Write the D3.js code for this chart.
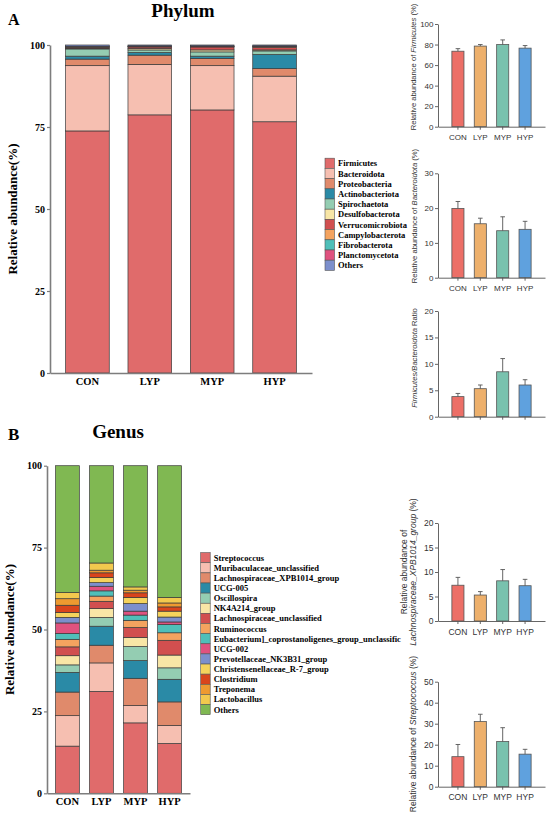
<!DOCTYPE html>
<html>
<head>
<meta charset="utf-8">
<script src="https://cdn.jsdelivr.net/npm/d3@7"></script>
<style>
  body { margin: 0; background: #fff; }
  svg { display: block; }
</style>
</head>
<body>
<svg id="fig" width="550" height="818"></svg>
<script>
const SERIF = '"Liberation Serif", "Times New Roman", serif';
const SANS = '"Liberation Sans", Arial, sans-serif';

const groups = ['CON', 'LYP', 'MYP', 'HYP'];

// ---- phylum composition (%) ----
const phyla = ['Firmicutes', 'Bacteroidota', 'Proteobacteria', 'Actinobacteriota', 'Spirochaetota',
  'Desulfobacterota', 'Verrucomicrobiota', 'Campylobacterota', 'Fibrobacterota', 'Planctomycetota', 'Others'];
const phylumColors = ['#e06b6b', '#f6bfb1', '#e08a6b', '#2a8aa6', '#94cdb2',
  '#f8e6a6', '#d14f4f', '#f4a35f', '#4fbfb9', '#e0527f', '#7c8fcc'];
const phylumCON = [73.8, 19.9, 2.0, 0.9, 2.2, 0.2, 0.3, 0.1, 0.1, 0.1, 0.4];
const phylumLYP = [78.7, 15.4, 2.8, 0.8, 0.8, 0.4, 0.5, 0.1, 0.1, 0.1, 0.3];
const phylumMYP = [80.2, 13.5, 2.2, 0.7, 1.3, 0.6, 0.9, 0.1, 0.1, 0.1, 0.3];
const phylumHYP = [76.6, 13.9, 2.3, 4.3, 1.1, 0.3, 0.8, 0.2, 0.1, 0.1, 0.3];

// ---- genus composition (%) ----
const genera = ['Streptococcus', 'Muribaculaceae_unclassified', 'Lachnospiraceae_XPB1014_group', 'UCG-005',
  'Oscillospira', 'NK4A214_group', 'Lachnospiraceae_unclassified', 'Ruminococcus',
  'Eubacterium]_coprostanoligenes_group_unclassific', 'UCG-002', 'Prevotellaceae_NK3B31_group',
  'Christensenellaceae_R-7_group', 'Clostridium', 'Treponema', 'Lactobacillus', 'Others'];
const genusColors = ['#e06b6b', '#f6bfb1', '#e08a6b', '#2a8aa6', '#94cdb2', '#f8e6a6', '#d14f4f', '#f4a35f',
  '#4fbfb9', '#e0527f', '#7c8fcc', '#f5d35c', '#d9451c', '#ee9a30', '#f2c94e', '#80b852'];
const genusCON = [14.4, 9.3, 7.2, 6.0, 2.3, 2.8, 2.7, 2.3, 1.8, 3.2, 1.7, 1.5, 2.2, 2.0, 1.9, 38.7];
const genusLYP = [31.1, 8.7, 5.4, 5.8, 2.7, 2.7, 2.2, 1.6, 1.6, 1.4, 1.1, 1.6, 1.4, 0.8, 2.2, 29.7];
const genusMYP = [21.5, 5.3, 8.3, 5.4, 4.3, 2.8, 3.0, 2.2, 1.6, 1.2, 2.3, 1.9, 1.4, 0.8, 1.0, 37.0];
const genusHYP = [15.2, 5.5, 7.2, 6.9, 3.5, 3.9, 4.5, 2.3, 2.5, 0.8, 1.5, 1.8, 1.3, 1.2, 1.7, 40.2];

// ---- single-taxon bar charts: mean and SD ----
const barColors = ['#ec6f67', '#edb06c', '#79c2ae', '#5fa1de'];
const firmicutesMean = [73.5, 78.5, 80.0, 76.5];
const firmicutesSD = [2.5, 1.5, 4.5, 2.5];
const bacteroidotaMean = [19.9, 15.5, 13.5, 13.9];
const bacteroidotaSD = [2.0, 1.6, 4.0, 2.3];
const ratioMean = [3.8, 5.3, 8.5, 6.0];
const ratioSD = [0.6, 0.7, 2.5, 1.0];
const lachnoMean = [7.3, 5.3, 8.2, 7.2];
const lachnoSD = [1.6, 0.7, 2.3, 1.3];
const streptoMean = [14.3, 31.0, 21.5, 15.5];
const streptoSD = [5.8, 3.5, 6.6, 2.3];

const svg = d3.select('#fig');

function stackedPanel(o) {
  const x = d3.scaleBand().domain(groups).range([o.left, o.right]).paddingInner(0.3).paddingOuter(0.25);
  const y = d3.scaleLinear().domain([0, 100]).range([o.bottom, o.top]);
  const rows = groups.map((grp, i) => {
    const r = { group: grp };
    o.taxa.forEach((t, j) => { r[t] = o.values[i][j]; });
    return r;
  });
  const series = d3.stack().keys(o.taxa)(rows);
  const g = svg.append('g');

  g.selectAll('g.layer').data(series).join('g')
    .attr('class', 'layer')
    .attr('fill', (d, i) => o.colors[i])
    .selectAll('rect').data(d => d).join('rect')
      .attr('x', d => x(d.data.group))
      .attr('y', d => y(d[1]))
      .attr('width', x.bandwidth())
      .attr('height', d => y(d[0]) - y(d[1]))
      .attr('stroke', '#3a3a3a')
      .attr('stroke-width', 0.7);

  const yAxis = g.append('g').attr('transform', `translate(${o.left},0)`)
    .call(d3.axisLeft(y).tickValues([0, 25, 50, 75, 100]).tickSize(3).tickSizeOuter(0).tickPadding(2));
  const xAxis = g.append('g').attr('transform', `translate(0,${o.bottom})`)
    .call(d3.axisBottom(x).tickSize(0).tickPadding(o.xPad));
  [yAxis, xAxis].forEach(a => {
    a.select('.domain').attr('stroke', '#7d7d7d').attr('stroke-width', 1.6);
    a.selectAll('.tick line').attr('stroke', '#7d7d7d').attr('stroke-width', 1.2);
    a.selectAll('text').style('font-family', SERIF).style('font-weight', 'bold').attr('fill', '#000');
  });
  yAxis.selectAll('text').style('font-size', '10px');
  xAxis.selectAll('text').style('font-size', '10.5px');

  svg.append('text')
    .attr('transform', `translate(${o.yLabelX},${(o.top + o.bottom) / 2}) rotate(-90)`)
    .attr('text-anchor', 'middle')
    .style('font-family', SERIF).style('font-weight', 'bold').style('font-size', '13px')
    .text('Relative abundance(%)');

  svg.append('text').attr('x', o.titleX).attr('y', o.titleY)
    .attr('text-anchor', 'middle')
    .style('font-family', SERIF).style('font-weight', 'bold').style('font-size', '19px')
    .text(o.title);
  svg.append('text').attr('x', 8).attr('y', o.letterY)
    .style('font-family', SERIF).style('font-weight', 'bold').style('font-size', o.letterSize)
    .text(o.letter);

  // legend
  const leg = svg.append('g');
  o.taxa.forEach((t, i) => {
    const top = o.legendTop + i * o.legendStep;
    leg.append('rect').attr('x', o.legendX).attr('y', top)
      .attr('width', 9.5).attr('height', o.legendStep)
      .attr('fill', o.colors[i]).attr('stroke', '#555').attr('stroke-width', 0.6);
    leg.append('text').attr('x', o.legendX + 13).attr('y', top + o.legendStep / 2 + 3)
      .style('font-family', SERIF).style('font-weight', 'bold').style('font-size', '8.5px')
      .text(t);
  });
}

function barPanel(o) {
  const x = d3.scaleBand().domain(groups).range([438, 545]).paddingInner(0.46).paddingOuter(0.62);
  const y = d3.scaleLinear().domain([0, o.max]).range([o.bottom, o.top]);
  const g = svg.append('g');

  g.selectAll('rect').data(groups).join('rect')
    .attr('x', d => x(d))
    .attr('y', (d, i) => y(o.mean[i]))
    .attr('width', x.bandwidth())
    .attr('height', (d, i) => y(0) - y(o.mean[i]))
    .attr('fill', (d, i) => barColors[i])
    .attr('stroke', '#555').attr('stroke-width', 0.8);

  const cx = d => x(d) + x.bandwidth() / 2;
  g.selectAll('line.err').data(groups).join('line')
    .attr('class', 'err')
    .attr('x1', cx).attr('x2', cx)
    .attr('y1', (d, i) => y(o.mean[i]))
    .attr('y2', (d, i) => y(o.mean[i] + o.sd[i]))
    .attr('stroke', '#555').attr('stroke-width', 0.9);
  g.selectAll('line.cap').data(groups).join('line')
    .attr('class', 'cap')
    .attr('x1', d => cx(d) - 2.3).attr('x2', d => cx(d) + 2.3)
    .attr('y1', (d, i) => y(o.mean[i] + o.sd[i]))
    .attr('y2', (d, i) => y(o.mean[i] + o.sd[i]))
    .attr('stroke', '#555').attr('stroke-width', 0.9);

  const yAxis = g.append('g').attr('transform', 'translate(438,0)')
    .call(d3.axisLeft(y).tickValues(d3.range(0, o.max + 0.001, o.step)).tickSize(3).tickSizeOuter(0).tickPadding(1.5));
  const xAxis = g.append('g').attr('transform', `translate(0,${o.bottom})`)
    .call(d3.axisBottom(x).tickSize(3).tickSizeOuter(0).tickPadding(4.5));
  if (!o.xLabels) xAxis.selectAll('text').remove();
  [yAxis, xAxis].forEach(a => {
    a.select('.domain').attr('stroke', '#555').attr('stroke-width', 0.9);
    a.selectAll('.tick line').attr('stroke', '#555').attr('stroke-width', 0.9);
    a.selectAll('text').style('font-family', SANS).style('font-size', o.font).attr('fill', '#333');
  });

  o.label.forEach((line, k) => {
    const t = svg.append('text')
      .attr('transform', `translate(${o.labelX[k]},${o.labelY}) rotate(-90)`)
      .attr('text-anchor', 'middle')
      .style('font-family', SANS).style('font-size', o.labelFont).attr('fill', '#333');
    line.forEach(part => {
      t.append('tspan').style('font-style', part.italic ? 'italic' : 'normal').text(part.text);
    });
  });
}

stackedPanel({
  taxa: phyla, colors: phylumColors,
  values: [phylumCON, phylumLYP, phylumMYP, phylumHYP],
  left: 50, right: 312, top: 45, bottom: 373, xPad: 4.5, yLabelX: 16.5,
  title: 'Phylum', titleX: 183, titleY: 17, letter: 'A', letterY: 25, letterSize: '16px',
  legendX: 325, legendTop: 158.2, legendStep: 10.2
});

stackedPanel({
  taxa: genera, colors: genusColors,
  values: [genusCON, genusLYP, genusMYP, genusHYP],
  left: 47, right: 190, top: 465.7, bottom: 793.3, xPad: 4, yLabelX: 13.5,
  title: 'Genus', titleX: 118, titleY: 438, letter: 'B', letterY: 440, letterSize: '17px',
  legendX: 200.7, legendTop: 552.6, legendStep: 10.13
});

barPanel({ mean: firmicutesMean, sd: firmicutesSD, max: 100, step: 20, top: 24, bottom: 126.7, xLabels: true,
  font: '8px', labelFont: '7.6px', labelY: 67,
  labelX: [416], label: [[{ text: 'Relative abundance of ' }, { text: 'Firmicutes', italic: true }, { text: ' (%)' }]] });
barPanel({ mean: bacteroidotaMean, sd: bacteroidotaSD, max: 30, step: 10, top: 173.3, bottom: 277.7, xLabels: true,
  font: '8px', labelFont: '7.6px', labelY: 216,
  labelX: [417], label: [[{ text: 'Relative abundance of ' }, { text: 'Bacteroidota', italic: true }, { text: ' (%)' }]] });
barPanel({ mean: ratioMean, sd: ratioSD, max: 20, step: 5, top: 311, bottom: 416.7, xLabels: false,
  font: '8px', labelFont: '7.6px', labelY: 358,
  labelX: [417], label: [[{ text: 'Firmicutes/Bacteroidota', italic: true }, { text: ' Ratio' }]] });
barPanel({ mean: lachnoMean, sd: lachnoSD, max: 20, step: 5, top: 523, bottom: 621, xLabels: true,
  font: '8.5px', labelFont: '8.5px', labelY: 572,
  labelX: [407, 416], label: [[{ text: 'Relative abundance of' }],
    [{ text: 'Lachnospiraceae_XPB1014_group', italic: true }, { text: ' (%)' }]] });
barPanel({ mean: streptoMean, sd: streptoSD, max: 50, step: 10, top: 681.7, bottom: 786.7, xLabels: true,
  font: '8.5px', labelFont: '8.5px', labelY: 734,
  labelX: [416], label: [[{ text: 'Relative abundance of ' }, { text: 'Streptococcus', italic: true }, { text: ' (%)' }]] });
</script>
</body>
</html>
